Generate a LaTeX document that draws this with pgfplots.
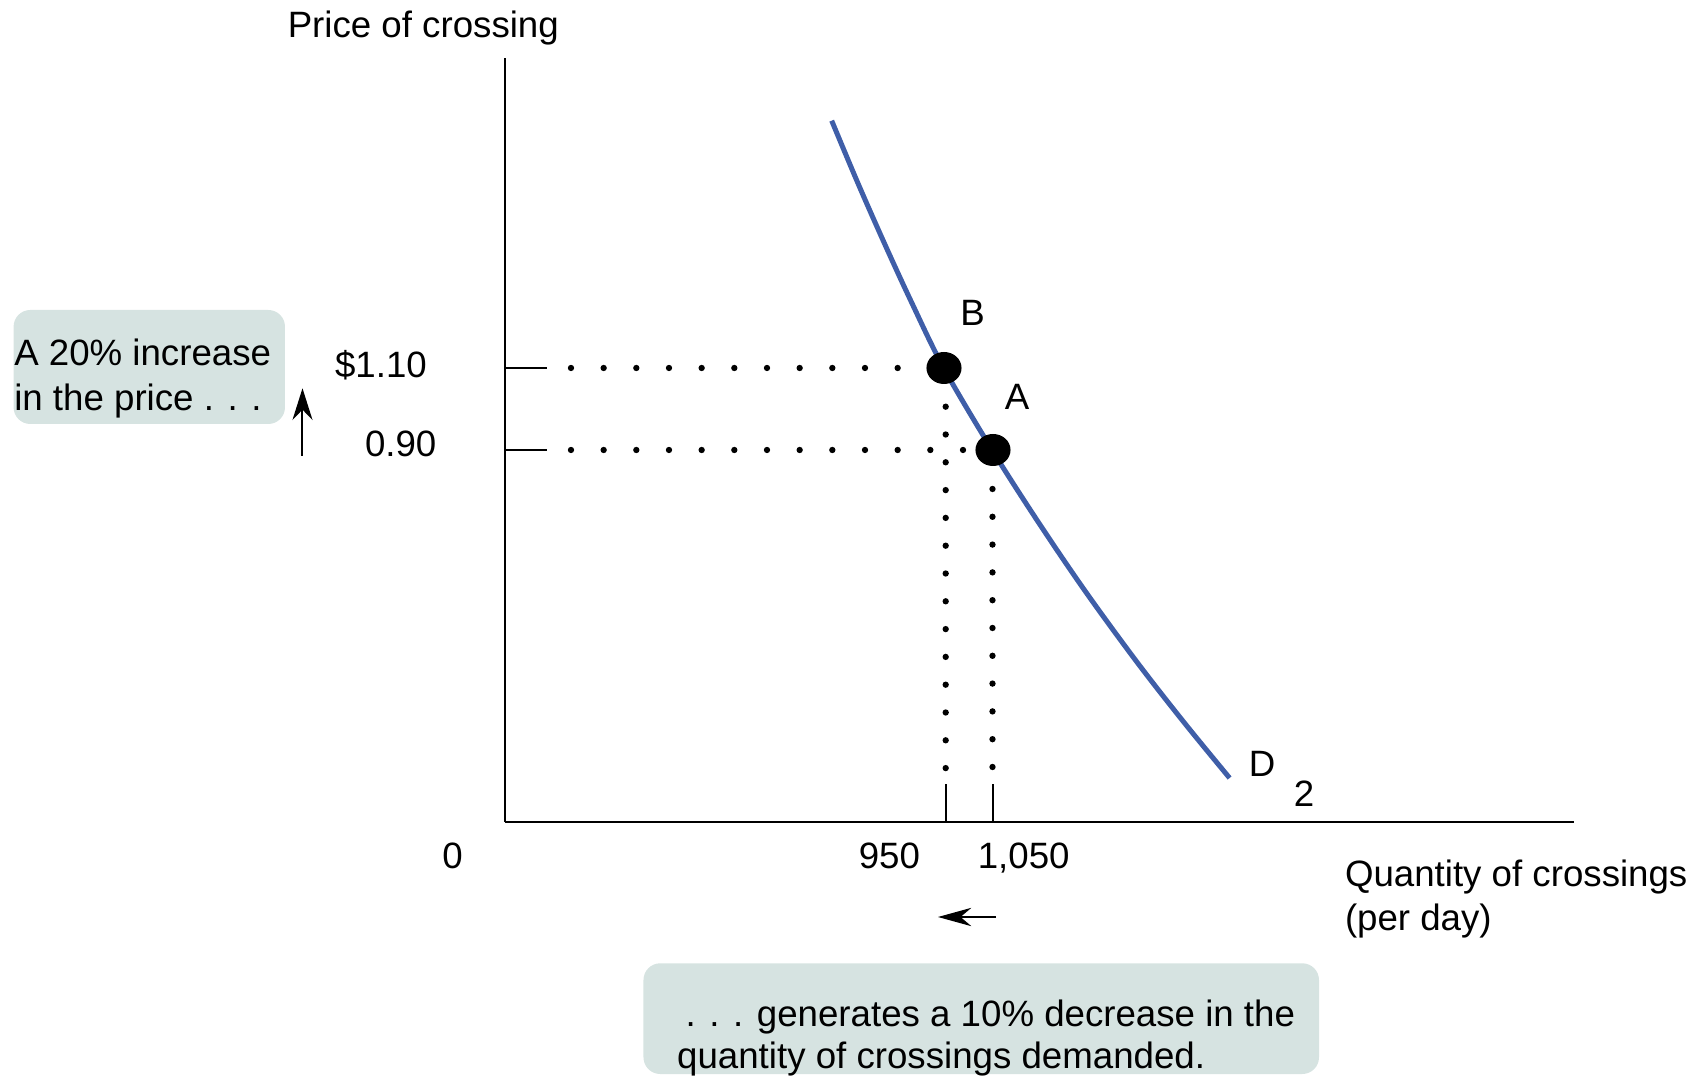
\documentclass[border=0pt]{standalone}
\usepackage{fontspec}
\setmainfont{Liberation Sans}
\usepackage{pgfplots}
\pgfplotsset{compat=1.18}
\usetikzlibrary{arrows.meta}
\definecolor{curveblue}{RGB}{63,94,168}
\definecolor{boxfill}{RGB}{214,227,225}
\begin{document}
\begin{tikzpicture}[every node/.style={font=\fontsize{11pt}{13pt}\selectfont, inner sep=0pt, outer sep=0pt}]
\useasboundingbox (-151.5pt,-76.8pt) rectangle (359.1pt,246.6pt);
\begin{axis}[
  x=0.3pt, y=0.3pt, xmin=0, xmax=1069, ymin=0, ymax=764,
  at={(0pt,0pt)}, anchor=south west,
  axis lines=left,
  axis line style={-, line width=0.55pt, black},
  every outer x axis line/.append style={-},
  every outer y axis line/.append style={-},
  xtick=\empty, ytick=\empty,
  clip=false,
]
% annotation boxes
\fill[boxfill, rounded corners=5pt] (axis cs:-491.4,398) rectangle (axis cs:-220,512);
\fill[boxfill, rounded corners=5pt] (axis cs:138.5,-252) rectangle (axis cs:814,-141.3);

% tick marks
\draw[line width=0.55pt] (axis cs:0,454) -- (axis cs:41.7,454);
\draw[line width=0.55pt] (axis cs:0,372) -- (axis cs:41.7,372);
\draw[line width=0.55pt] (axis cs:440.7,0) -- (axis cs:440.7,38);
\draw[line width=0.55pt] (axis cs:487.7,0) -- (axis cs:487.7,38);

% dotted guide lines
\addplot[black, line width=1.9pt, line cap=round, dash pattern=on 0pt off 9.8pt] coordinates {(66,454) (393.5,454)};
\addplot[black, line width=1.9pt, line cap=round, dash pattern=on 0pt off 9.8pt] coordinates {(66,372) (458.8,372)};
\addplot[black, line width=1.9pt, line cap=round, dash pattern=on 0pt off 8.34pt] coordinates {(440.7,415.3) (440.7,53)};
\addplot[black, line width=1.9pt, line cap=round, dash pattern=on 0pt off 8.34pt] coordinates {(487.5,333) (487.5,53)};

% demand curve D2
\addplot[curveblue, line width=1.5pt, smooth, tension=0.55] coordinates {
(326.7,701.3) (352.4,640) (378.8,580) (406.4,520) (438.7,454) (487.1,372)
(533.2,300) (580.8,230) (631.9,160) (678.7,100) (724.6,44)};

% points B and A
\addplot[only marks, mark=*, mark size=4.6pt, mark options={black, xscale=1.1}] coordinates {(439,454) (488,372)};

% labels
\node[anchor=base] at (axis cs:-81.7,784.3) {Price of crossing};
\node[anchor=base east] at (axis cs:-78.2,444.7) {\$1.10};
\node[anchor=base east] at (axis cs:-68.6,365.3) {0.90};
\node[anchor=base] at (axis cs:-52.3,-46) {0};
\node[anchor=base] at (axis cs:384.4,-46) {950};
\node[anchor=base] at (axis cs:518.7,-46) {1,050};
\node[anchor=base west] at (axis cs:840,-64.7) {Quantity of crossings};
\node[anchor=base west] at (axis cs:840,-108.6) {(per day)};
\node[anchor=base] at (axis cs:467.5,496.3) {B};
\node[anchor=base] at (axis cs:512.2,412) {A};
\node[anchor=base] at (axis cs:757,45.3) {D};
\node[anchor=base] at (axis cs:799,15.3) {2};
\node[anchor=base west] at (axis cs:-490.7,456) {A 20\% increase};
\node[anchor=base west] at (axis cs:-490.7,411) {in the price . . .};
\node[anchor=base west] at (axis cs:180.6,-204) {. . . generates a 10\% decrease in the};
\node[anchor=base west] at (axis cs:172.2,-246) {quantity of crossings demanded.};

% arrows
\draw[line width=0.6pt, -{Stealth[length=9.5pt,width=6pt]}] (axis cs:-202.5,366.3) -- (axis cs:-202.5,433.7);
\draw[line width=0.6pt, -{Stealth[length=10pt,width=5.5pt]}] (axis cs:491,-95) -- (axis cs:433,-95);
\end{axis}
\end{tikzpicture}
\end{document}
